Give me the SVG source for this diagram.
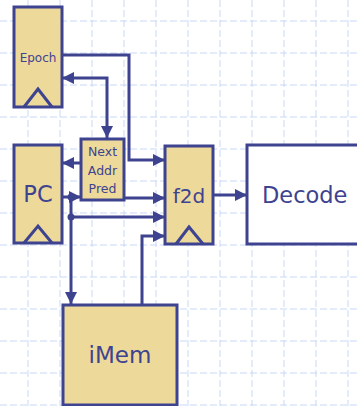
<svg xmlns="http://www.w3.org/2000/svg" width="357" height="406" viewBox="0 0 357 406">
<style>
.grid line{stroke:#c9d7f5;stroke-width:1;stroke-dasharray:7 3}
.reg{fill:#EDD99A;stroke:#3E4390;stroke-width:3}
.box{fill:#ffffff;stroke:#3E4390;stroke-width:3}
.tri{fill:none;stroke:#3E4390;stroke-width:3}
.w{fill:none;stroke:#3E4390;stroke-width:3}
.t{font-family:"DejaVu Sans",Verdana,sans-serif;fill:#3E4390;text-anchor:middle}
</style>
<defs>
<marker id="ah" markerUnits="userSpaceOnUse" viewBox="0 0 12 12" refX="12" refY="6" markerWidth="12" markerHeight="12" orient="auto-start-reverse">
<path d="M0,0 L12,6 L0,12 z" fill="#3E4390"/>
</marker>
</defs>
<rect width="357" height="406" fill="#ffffff"/>
<g class="grid">
<line x1="28" y1="0" x2="28" y2="406"/><line x1="60" y1="0" x2="60" y2="406"/><line x1="92" y1="0" x2="92" y2="406"/><line x1="124" y1="0" x2="124" y2="406"/><line x1="156" y1="0" x2="156" y2="406"/><line x1="188" y1="0" x2="188" y2="406"/><line x1="220" y1="0" x2="220" y2="406"/><line x1="252" y1="0" x2="252" y2="406"/><line x1="284" y1="0" x2="284" y2="406"/><line x1="316" y1="0" x2="316" y2="406"/><line x1="348" y1="0" x2="348" y2="406"/>
<line x1="0" y1="21" x2="357" y2="21"/><line x1="0" y1="53" x2="357" y2="53"/><line x1="0" y1="85" x2="357" y2="85"/><line x1="0" y1="117" x2="357" y2="117"/><line x1="0" y1="149" x2="357" y2="149"/><line x1="0" y1="181" x2="357" y2="181"/><line x1="0" y1="213" x2="357" y2="213"/><line x1="0" y1="245" x2="357" y2="245"/><line x1="0" y1="277" x2="357" y2="277"/><line x1="0" y1="309" x2="357" y2="309"/><line x1="0" y1="341" x2="357" y2="341"/><line x1="0" y1="373" x2="357" y2="373"/><line x1="0" y1="405" x2="357" y2="405"/>
</g>
<g id="connectors">
<polyline class="w" points="62,55 129,55 129,160 165,160" marker-end="url(#ah)"/>
<polyline class="w" points="107,138 107,78 62,78" marker-start="url(#ah)" marker-end="url(#ah)"/>
<line class="w" x1="81" y1="163" x2="62" y2="163" marker-end="url(#ah)"/>
<line class="w" x1="62" y1="197" x2="81" y2="197" marker-end="url(#ah)"/>
<line class="w" x1="71" y1="197" x2="71" y2="304" marker-end="url(#ah)"/>
<line class="w" x1="71" y1="217" x2="165" y2="217" marker-end="url(#ah)"/>
<line class="w" x1="124" y1="198" x2="165" y2="198" marker-end="url(#ah)"/>
<polyline class="w" points="142,305 142,236 165,236" marker-end="url(#ah)"/>
<line class="w" x1="213" y1="195" x2="247" y2="195" marker-end="url(#ah)"/>
<circle cx="71" cy="197" r="3.5" fill="#3E4390"/>
<circle cx="71" cy="217" r="3.5" fill="#3E4390"/>
</g>
<g id="epoch">
<rect class="reg" x="14" y="7" width="48" height="100"/>
<polyline class="tri" points="24,107 38,89 52,107"/>
<text class="t" x="38" y="62" font-size="12">Epoch</text>
</g>
<g id="nap">
<rect class="reg" x="81" y="139" width="43" height="61"/>
<text class="t" x="102.5" y="156" font-size="12.5">Next</text>
<text class="t" x="102.5" y="175" font-size="12.5">Addr</text>
<text class="t" x="102.5" y="193" font-size="12.5">Pred</text>
</g>
<g id="pc">
<rect class="reg" x="14" y="145" width="48" height="98"/>
<polyline class="tri" points="24,243 38,226 52,243"/>
<text class="t" x="38" y="202" font-size="22.5">PC</text>
</g>
<g id="f2d">
<rect class="reg" x="165" y="146" width="48" height="98"/>
<polyline class="tri" points="176,244 189,227 203,244"/>
<text class="t" x="189" y="203" font-size="20">f2d</text>
</g>
<g id="decode">
<rect class="box" x="247" y="145" width="120" height="99"/>
<text class="t" x="262" y="203" font-size="22.5" text-anchor="start" style="text-anchor:start">Decode</text>
</g>
<g id="imem">
<rect class="reg" x="63" y="305" width="114" height="100"/>
<text class="t" x="120" y="363" font-size="23">iMem</text>
</g>
</svg>
